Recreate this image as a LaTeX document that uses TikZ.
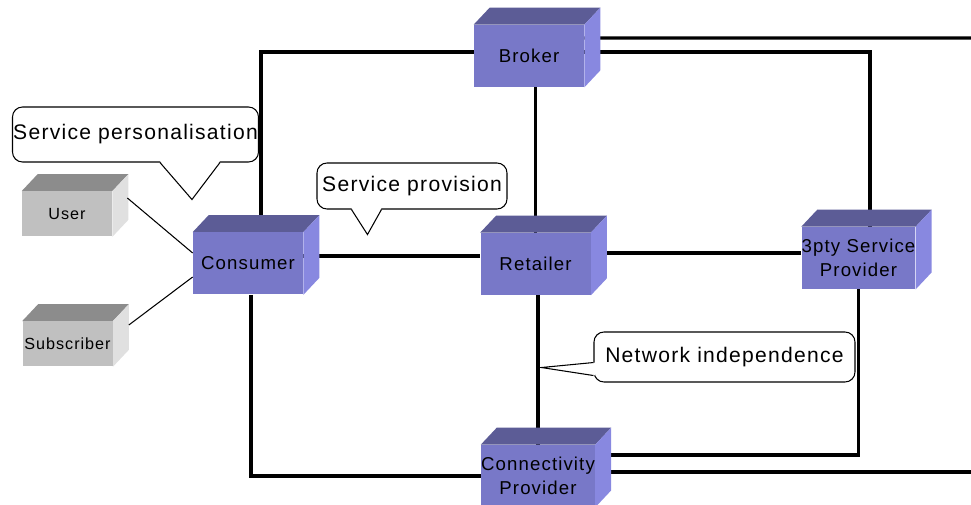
\documentclass[tikz,border=0pt]{standalone}
\usepackage{fontspec}
\setmainfont{Liberation Sans}[LetterSpace=6]
\usetikzlibrary{positioning, calc, backgrounds}

% cube faces
\definecolor{rolefront}{RGB}{120,120,200}
\definecolor{roletop}{RGB}{92,92,150}
\definecolor{roleside}{RGB}{136,136,224}
\definecolor{userfront}{RGB}{192,192,192}
\definecolor{usertop}{RGB}{140,140,140}
\definecolor{userside}{RGB}{224,224,224}

\begin{document}
\begin{tikzpicture}[
    link/.style={line width=1.75pt, draw=black},
    thinlink/.style={line width=0.6pt, draw=black},
    rolelabel/.style={font=\fontsize{10.6}{14}\selectfont},
    userlabel/.style={font=\fontsize{9.2}{12}\selectfont},
    bubble/.style={draw=black, line width=0.6pt, fill=white, rounded corners=0.2cm,
        inner sep=0pt, font=\fontsize{12}{14}\selectfont},
    cube/.style n args={3}{rectangle, inner sep=0pt, fill=#1, align=center,
        minimum width=2.2cm, minimum height=1.24cm,
        append after command={\pgfextra{
            \fill[#2] (\tikzlastnode.north west) -- ++(0.32,0.34)
                -- ($(\tikzlastnode.north east)+(0.32,0.34)$) -- (\tikzlastnode.north east) -- cycle;
            \fill[#3] (\tikzlastnode.north east) -- ++(0.32,0.34)
                -- ($(\tikzlastnode.south east)+(0.32,0.34)$) -- (\tikzlastnode.south east) -- cycle;
        }}},
    role/.style={cube={rolefront}{roletop}{roleside}, rolelabel},
    party/.style={cube={userfront}{usertop}{userside}, userlabel,
        minimum width=1.8cm, minimum height=0.9cm}
]
\useasboundingbox (0,0) rectangle (19.42,10.10);

% Business roles
\node[role] (broker) at (10.58, 8.98) {Broker};
\node[role] (consumer) at (4.96, 4.83) {Consumer};
\node[role] (retailer) at (10.71, 4.82) {Retailer};
\node[role, minimum width=2.18cm] (provider) at (17.17, 4.94) {3pty Service\\Provider};
\node[role] (connect) at (10.76, 0.58) {Connectivity\\Provider};

% End users
\node[party] (user) at (1.34, 5.82) {User};
\node[party] (subscriber) at (1.35, 3.22) {Subscriber};

% Loose ends leaving on the right
\coordinate (edgeA) at (19.6, 9.34);
\coordinate (edgeB) at (19.6, 0.66);

% Reference points
\begin{scope}[on background layer]
    \draw[link] ([yshift=0.08cm]broker.west) -| ($(consumer.north)+(0.26,0)$);
    \draw[link] ([yshift=0.36cm]broker.east) -- (edgeA);
    \draw[link] ([yshift=0.08cm]broker.east) -| ($(provider.north)+(0.23,0)$);
    \draw[link] (retailer.north) -- (retailer.north |- broker.south);
    \draw[link] ([yshift=0.15cm]consumer.east) -- ([yshift=0.15cm]consumer.east -| retailer.west);
    \draw[link] ([yshift=0.22cm]retailer.east) -- ([yshift=0.22cm]retailer.east -| provider.west);
    \draw[link] (connect.north) -- (connect.north |- retailer.south);
    \draw[link] ($(consumer.south)+(0.06,0)$) |- (connect.west);
    \draw[link] (provider.south) |- ([yshift=0.42cm]connect.east);
    \draw[link] ([yshift=0.08cm]connect.east) -- (edgeB);
\end{scope}
\draw[thinlink] ($(user.east)+(0.3,0.32)$) -- ([yshift=0.21cm]consumer.west);
\draw[thinlink] ($(subscriber.east)+(0.32,0.38)$) -- ([yshift=-0.27cm]consumer.west);

% Callouts
\node[bubble, minimum width=4.92cm, minimum height=1.1cm] (personal) at (2.71, 7.41) {Service personalisation};
\coordinate (personaltip) at ($(personal.south west)+(3.6,-0.74)$);
\path[fill=white] ($(personal.south west)+(2.96,0.03)$) -- (personaltip) -- ($(personal.south west)+(4.16,0.03)$) -- cycle;
\draw[thinlink] ($(personal.south west)+(2.96,0)$) -- (personaltip) -- ($(personal.south west)+(4.16,0)$);

\node[bubble, minimum width=3.8cm, minimum height=0.92cm] (provision) at (8.24, 6.38) {Service provision};
\coordinate (provisiontip) at ($(provision.south west)+(1.02,-0.5)$);
\path[fill=white] ($(provision.south west)+(0.7,0.03)$) -- (provisiontip) -- ($(provision.south west)+(1.3,0.03)$) -- cycle;
\draw[thinlink] ($(provision.south west)+(0.7,0)$) -- (provisiontip) -- ($(provision.south west)+(1.3,0)$);

\node[bubble, minimum width=5.22cm, minimum height=1.0cm] (network) at (14.49, 2.96) {Network independence};
\coordinate (networktip) at ($(network.south west)+(-1.04,0.3)$);
\path[fill=white] ($(network.south west)+(0.03,0.4)$) -- (networktip) -- ($(network.south west)+(0.03,0.14)$) -- cycle;
\draw[thinlink] ($(network.south west)+(0,0.4)$) -- (networktip) -- ($(network.south west)+(0,0.14)$);

\end{tikzpicture}
\end{document}
